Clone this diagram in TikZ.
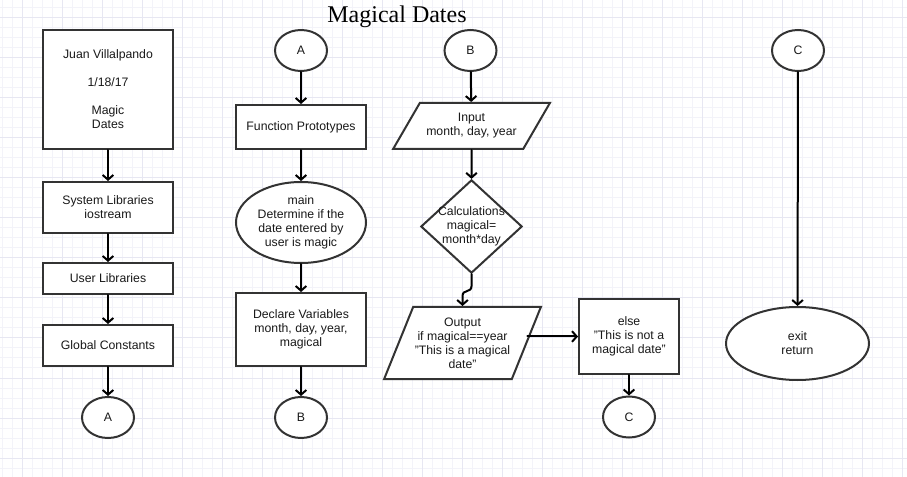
\documentclass[tikz,border=0pt]{standalone}
\usepackage{fontspec}
\setmainfont{Liberation Sans}
\newfontfamily\titlefont{Liberation Serif}
\usepackage{tikz}
\usetikzlibrary{shapes.geometric}
\usetikzlibrary{arrows.meta}
\definecolor{gridminor}{HTML}{F3F3F9}
\definecolor{gridmajor}{HTML}{E7E7F2}
\definecolor{edge}{HTML}{333333}
\tikzset{
        box/.style={draw=edge,line width=1.5pt,fill=white,align=center,inner sep=1pt,
                font=\fontsize{9.2}{10.5}\selectfont,text=black!90},
        procbox/.style={box,rectangle,minimum width=97.5pt},
        connector/.style={box,ellipse,minimum width=39pt,minimum height=30.75pt},
        iobox/.style={box,trapezium,trapezium stretches=true,minimum width=117.75pt},
        decision/.style={box,diamond,aspect=1.086,inner sep=-1.5pt,
                minimum width=75.75pt,minimum height=69.75pt},
        flow/.style={->,line width=1.5pt,black},
}

\begin{document}
\begin{tikzpicture}[x=0.75pt,y=-0.75pt,>={Straight Barb[length=3.5pt,width=8pt]},line cap=round]
        \useasboundingbox (0,0) rectangle (907,477);
        \fill[white] (0,0) rectangle (907,477);
%       grid paper
        \foreach \gx in {2,12,...,902} \draw[gridminor,line width=0.75pt] (\gx,0) -- (\gx,477);
        \foreach \gy in {8,18,...,468} \draw[gridminor,line width=0.75pt] (0,\gy) -- (907,\gy);
        \foreach \gx in {22,62,...,902} \draw[gridmajor,line width=0.75pt] (\gx,0) -- (\gx,477);
        \foreach \gy in {18,58,...,458} \draw[gridmajor,line width=0.75pt] (0,\gy) -- (907,\gy);
        \node[font=\titlefont\fontsize{18}{20}\selectfont] (title) at (397,17) {Magical Dates};
%       first column
        \node[procbox,minimum height=89.25pt] (header) at (108,89.5)
                {Juan Villalpando\\[10.5pt]1/18/17\\[10.5pt]Magic\\Dates};
        \node[procbox,minimum height=38.25pt] (syslib) at (108,207.5) {System Libraries\\iostream};
        \node[procbox,minimum height=23.25pt] (userlib) at (108,278.5) {User Libraries};
        \node[procbox,minimum height=30.75pt] (globals) at (108,345.5) {Global Constants};
        \node[connector] (outA) at (108,417.5) {A};
        \draw[flow] (header) -- (syslib);
        \draw[flow] (syslib) -- (userlib);
        \draw[flow] (userlib) -- (globals);
        \draw[flow] (globals) -- (outA);
%       second column
        \node[connector] (inA) at (301,50.5) {A};
        \node[procbox,minimum height=33pt] (protos) at (301,127) {Function Prototypes};
        \node[box,ellipse,inner sep=0pt,minimum width=97.5pt,minimum height=60.75pt] (main) at (301,222.5)
                {main\\Determine if the\\date entered by\\user is magic};
        \node[procbox,minimum height=54.75pt] (vars) at (301,329.5) {Declare Variables\\month, day, year,\\magical};
        \node[connector] (outB) at (301,417.5) {B};
        \draw[flow] (inA) -- (protos);
        \draw[flow] (protos) -- (main);
        \draw[flow] (main) -- (vars);
        \draw[flow] (vars) -- (outB);
%       third column
        \node[connector] (inB) at (470.5,50.5) {B};
        \node[iobox,trapezium left angle=49,trapezium right angle=131,minimum height=34.5pt] (input)
                at (471.5,126) {Input\\month, day, year};
        \node[decision] (calc) at (471.5,226.5) {Calculations\\magical=\\month*day};
        \node[iobox,trapezium left angle=61.6,trapezium right angle=118.4,minimum height=54pt] (output)
                at (462.5,343) {Output\\if magical==year\\"This is a magical\\date"};
        \node[procbox,minimum width=75pt,minimum height=56.25pt] (notmagic) at (629,336.5)
                {else\\"This is not a\\magical date"};
        \node[connector] (outC) at (629,417) {C};
        \draw[flow] (inB) -- (input);
        \draw[flow] (input) -- (calc);
        \draw[flow] (calc.south) -- ++(0,12) .. controls +(0,7) and +(0,-7) .. ([yshift=7.5pt]output.north)
                -- (output.north);
        \draw[flow] (output.east |- notmagic.west) -- (notmagic.west);
        \draw[flow] (notmagic) -- (outC);
%       last column
        \node[connector] (inC) at (798,50.5) {C};
        \node[box,ellipse,minimum width=107.25pt,minimum height=54.75pt] (exit) at (797.5,343.5) {exit\\return};
        \draw[flow] (inC) -- (exit);
\end{tikzpicture}
\end{document}
